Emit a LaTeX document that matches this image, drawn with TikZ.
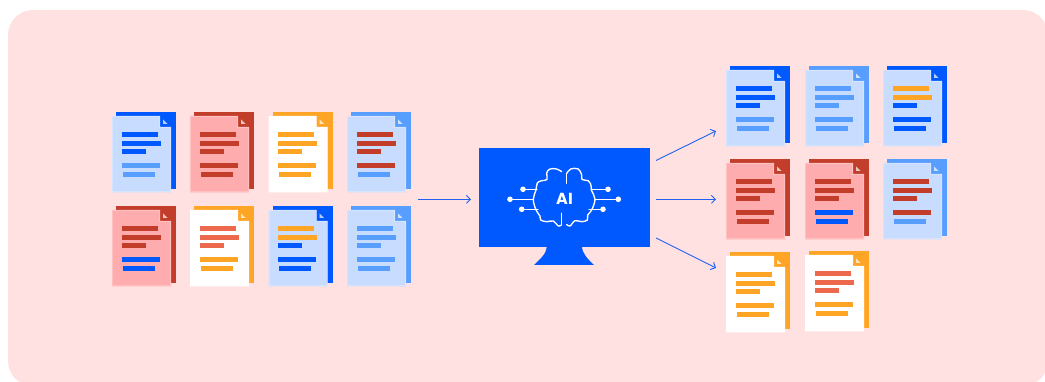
\documentclass[tikz,border=0pt]{standalone}
\usepackage{fontspec}
\setmainfont{Poppins}
\usetikzlibrary{arrows.meta}
\definecolor{bgpink}{HTML}{FFE1E1}
\definecolor{cblue}{HTML}{0059FF}
\definecolor{cmid}{HTML}{579EFF}
\definecolor{clight}{HTML}{C8DCFF}
\definecolor{cred}{HTML}{C23E2B}
\definecolor{cpink}{HTML}{FFACAE}
\definecolor{corange}{HTML}{FFA526}
\definecolor{ccoral}{HTML}{EC694E}
\definecolor{carrow}{HTML}{1F62F2}
\tikzset{
  x=1pt,y=-1pt,
  arrowline/.style={draw=carrow,line width=0.9pt,-{Straight Barb[length=4pt,width=8pt]}},
  wire/.style={draw=white,line width=1.35pt,line cap=round},
  tipdot/.style={circle,fill=white,inner sep=0pt,minimum size=5.6pt},
  anchorbox/.style={inner sep=0pt,minimum width=59pt,minimum height=76.5pt,anchor=north west},
}
% name, x, y, front, back, bar1-2, bar3, bar4, bar5
\newcommand{\docsheet}[9]{%
  \begin{scope}[shift={(#2,#3)}]
    \node[anchorbox] (#1) at (0,0) {};
    \fill[#5] (4,-4) rectangle (64,73);
    \fill[#4] (0,0) -- (48,0) -- (48,11) -- (59,11) -- (59,76.5) -- (0,76.5) -- cycle;
    \draw[white,opacity=.25,line width=1pt] (.5,.5) -- (47.5,.5) -- (47.5,11.5) -- (58.5,11.5) -- (58.5,76) -- (.5,76) -- cycle;
    \fill[white,opacity=.7] (51,3.5) -- (51,8) -- (55.5,8) -- cycle;
    \fill[#6] (9.6,16) rectangle +(36,5);
    \fill[#6] (9.6,25) rectangle +(39,5);
    \fill[#7] (9.6,33.5) rectangle +(24,5);
    \fill[#8] (9.6,47) rectangle +(38,5);
    \fill[#9] (10.6,56) rectangle +(32,5);
  \end{scope}}
\begin{document}
\begin{tikzpicture}
\useasboundingbox (0,0) rectangle (1045,382);
\fill[white] (0,0) rectangle (1045,382);
\begin{scope}
\clip (0,0) rectangle (1045,382);
\fill[bgpink,rounded corners=25pt] (8,10) rectangle (1048,386);
\end{scope}
% left documents
\docsheet{la}{112}{116}{clight}{cblue}{cblue}{cblue}{cmid}{cmid}
\docsheet{lb}{190}{116}{cpink}{cred}{cred}{cred}{cred}{cred}
\docsheet{lc}{268.5}{116}{white}{corange}{corange}{corange}{corange}{corange}
\docsheet{ld}{347}{116}{clight}{cmid}{cred}{cred}{cred}{cmid}
\docsheet{le}{112}{210}{cpink}{cred}{cred}{cred}{cblue}{cblue}
\docsheet{lf}{190}{210}{white}{corange}{ccoral}{ccoral}{corange}{corange}
\docsheet{lg}{268.5}{210}{clight}{cblue}{corange}{cblue}{cblue}{cblue}
\docsheet{lh}{347}{210}{clight}{cmid}{cmid}{cmid}{cmid}{cmid}
% right documents
\docsheet{ra}{726}{70}{clight}{cblue}{cblue}{cblue}{cmid}{cmid}
\docsheet{rb}{805}{70}{clight}{cmid}{cmid}{cmid}{cmid}{cmid}
\docsheet{rc}{883}{70}{clight}{cblue}{corange}{cblue}{cblue}{cblue}
\docsheet{rd}{726}{163}{cpink}{cred}{cred}{cred}{cred}{cred}
\docsheet{re}{805}{163}{cpink}{cred}{cred}{cred}{cblue}{cblue}
\docsheet{rf}{883}{163}{clight}{cmid}{cred}{cred}{cred}{cmid}
\docsheet{rg}{726}{256}{white}{corange}{corange}{corange}{corange}{corange}
\docsheet{rh}{805}{255}{white}{corange}{ccoral}{ccoral}{corange}{corange}
% monitor
\node[fill=cblue,inner sep=0pt,minimum width=171pt,minimum height=99pt] (mon) at (564.5,197.5) {};
\fill[cblue] (546.7,246) .. controls (546.7,254) and (540,259) .. (534,265) -- (594,265) .. controls (588,259) and (582,254) .. (582,246) -- cycle;
% brain
\draw[wire] plot[smooth,tension=.62] coordinates {(561.7,171.7) (556.7,169) (550,169) (546.7,173) (547,179.5) (541.7,180.7) (537.3,183) (536,190) (533.3,199.3) (536,210) (540,216) (540.7,220) (546.7,221.7) (553.3,221) (558.3,226) (561.3,225)};
\draw[wire] (561.3,225) -- (561.3,213.3);
\draw[wire] (566.7,183.3) -- (566.7,173.5);
\draw[wire] plot[smooth,tension=.62] coordinates {(566.7,173.5) (570.7,169) (578.3,169) (581.7,175) (582,179.5) (588.3,180.7) (590.7,184) (591.7,190.7) (595,199.3) (591.7,210) (587.7,215) (587.3,220) (581.7,221.7) (575,220.7) (570,226) (566.7,224.5)};
\draw[wire] (537,189.3) -- (523,189.3);
\draw[wire] (533.3,199.3) -- (510,199.3);
\draw[wire] (538,209.3) -- (521.7,209.3);
\draw[wire] (591,189.3) -- (608,189.3);
\draw[wire] (595,199.3) -- (618.3,199.3);
\draw[wire] (589,209.3) -- (603,209.3);
\node[tipdot] (d1) at (523,189.3) {};
\node[tipdot] (d2) at (510,199.3) {};
\node[tipdot] (d3) at (521.7,209.3) {};
\node[tipdot] (d4) at (608,189.3) {};
\node[tipdot] (d5) at (618.3,199.3) {};
\node[tipdot] (d6) at (603,209.3) {};
\node[text=white,font=\fontsize{16}{16}\selectfont\bfseries,inner sep=0pt] (ai) at (564.5,199.3) {AI};
% arrows
\coordinate (a0s) at (418,199.3);
\coordinate (a0e) at (471,199.3);
\coordinate (a1s) at (656,160.5);
\coordinate (a1e) at (716,131);
\coordinate (a2s) at (656,199.3);
\coordinate (a2e) at (716,199.3);
\coordinate (a3s) at (656,238);
\coordinate (a3e) at (716,268);
\draw[arrowline] (a0s) -- (a0e);
\draw[arrowline] (a1s) -- (a1e);
\draw[arrowline] (a2s) -- (a2e);
\draw[arrowline] (a3s) -- (a3e);
\end{tikzpicture}
\end{document}
